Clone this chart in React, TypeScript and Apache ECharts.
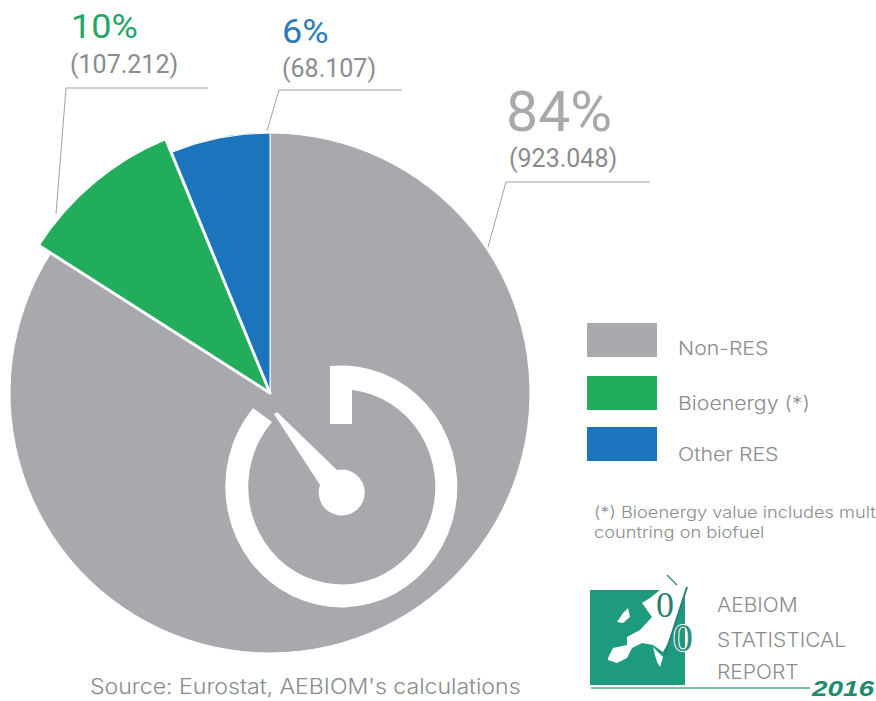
import React, { useEffect, useRef } from "react";
import * as echarts from "echarts";

const categories = ["Non-RES", "Bioenergy (*)", "Other RES"];
const values = [923.048, 107.212, 68.107];
const valueLabels = ["(923.048)", "(107.212)", "(68.107)"];
const shareLabels = ["84%", "10%", "6%"];
const colors = ["#A7A9AC", "#22AD5C", "#1C75BC"];
const footnote = ["(*) Bioenergy value includes mult", "countring on biofuel"];
const reportLines = ["AEBIOM", "STATISTICAL", "REPORT"];
const reportYear = "2016";
const sourceText = "Source: Eurostat, AEBIOM's calculations";

// White gauge mark sitting inside the large slice.
const gaugeRing =
  "M330 366 L330 424 L352 424 L352 390 A93.5 97.5 0 1 1 272 422 L253 408 A116 121 0 1 0 330 366 Z";
const gaugeNeedle = "M274 414 L277 412 L337 470 A23 23 0 1 1 320 485 Z";
// Simplified map of Europe for the report badge.
const europeMap =
  "M608 658 L613 648 L627 645 L627 637 L640 630 L652 617 L642 603 L650 598 L660 590 L685 590 L685 595 L668 643 L663 652 L653 645 L642 643 L632 648 L627 658 L617 663 L608 660 Z " +
  "M617 622 L623 613 L628 608 L630 617 L623 623 Z " +
  "M653 647 L663 657 L660 667 L657 662 L655 655 Z";

echarts.graphic.registerShape("gaugeRing", echarts.graphic.extendPath(gaugeRing, {}));
echarts.graphic.registerShape("gaugeNeedle", echarts.graphic.extendPath(gaugeNeedle, {}));
echarts.graphic.registerShape("europeMap", echarts.graphic.extendPath(europeMap, {}));

const GREY_TEXT = "#8A8C8E";
const FONT = "Inter";
const HEAD_FONT = "Roboto";
const LOGO_GREEN = "#1E9A7E";

function sliceData(visibleIndex: number[]) {
  return categories.map((name, i) => ({
    name,
    value: values[i],
    itemStyle: visibleIndex.includes(i)
      ? { color: colors[i], borderColor: "#FFFFFF", borderWidth: i === 1 ? 3 : 1 }
      : { color: "rgba(0,0,0,0)", borderWidth: 0 },
  }));
}

// Text element; the wide lettering of this design is obtained with a horizontal scale.
function text(
  x: number,
  y: number,
  t: string,
  fontSize: number,
  fill: string,
  extra: object = {},
  scaleX = 1,
) {
  return {
    type: "text",
    x,
    y,
    z: 10,
    scaleX,
    style: { text: t, fontSize, fill, fontFamily: FONT, fontWeight: 300, textVerticalAlign: "middle", ...extra },
  };
}

function leader(points: number[][]) {
  return {
    type: "polyline",
    z: 1,
    shape: { points },
    style: { stroke: "#A0A2A4", lineWidth: 1, fill: "none" },
  };
}

export default function App() {
  const ref = useRef<HTMLDivElement>(null);

  useEffect(() => {
    document.body.style.margin = "0";
    const chart = echarts.init(ref.current!, null, { renderer: "svg" });
    const swatchY = [323, 376, 427];
    const legendTextY = [348, 403, 454];
    const headStyle = { fontFamily: HEAD_FONT, fontWeight: 400 };
    chart.setOption({
      animation: false,
      backgroundColor: "#FFFFFF",
      series: [
        {
          type: "pie",
          center: [270, 393],
          radius: [0, 260],
          startAngle: 90,
          clockwise: true,
          silent: true,
          label: { show: false },
          labelLine: { show: false },
          data: sliceData([0, 2]),
        },
        {
          type: "pie",
          center: [270, 393],
          radius: [0, 275],
          startAngle: 90,
          clockwise: true,
          silent: true,
          label: { show: false },
          labelLine: { show: false },
          data: sliceData([1]),
        },
      ],
      graphic: [
        { type: "gaugeRing", z: 10, style: { fill: "#FFFFFF" } },
        { type: "gaugeNeedle", z: 10, style: { fill: "#FFFFFF" } },
        leader([[488, 247], [506, 182], [650, 182]]),
        leader([[56, 214], [66, 88], [208, 88]]),
        leader([[267, 131], [279, 90], [402, 90]]),
        text(506, 112, shareLabels[0], 55, colors[0], headStyle, 1.04),
        text(509, 158, valueLabels[0], 25, GREY_TEXT, headStyle),
        text(71, 27, shareLabels[1], 34, "#22A565", headStyle, 1.06),
        text(70, 64, valueLabels[1], 25, GREY_TEXT, headStyle),
        text(282, 32, shareLabels[2], 34, "#2B7BB9", headStyle, 1.06),
        text(282, 68, valueLabels[2], 25, GREY_TEXT, headStyle),
        ...categories.flatMap((name, i) => [
          {
            type: "rect",
            shape: { x: 587, y: swatchY[i], width: 70, height: 34 },
            style: { fill: colors[i] },
          },
          text(678, legendTextY[i], name, 19, GREY_TEXT, {}, 1.12),
        ]),
        text(594, 512, footnote[0], 16, GREY_TEXT, {}, 1.14),
        text(594, 532, footnote[1], 16, GREY_TEXT, {}, 1.14),
        {
          type: "rect",
          shape: { x: 590, y: 590, width: 95, height: 95 },
          style: { fill: LOGO_GREEN },
        },
        { type: "europeMap", z: 5, style: { fill: "#FFFFFF" } },
        text(665, 605, "0", 36, "#2A7F70", { fontFamily: "Liberation Serif", fontWeight: 400, textAlign: "center" }),
        text(683, 637, "0", 40, "#2A8F80", {
          fontFamily: "Liberation Serif",
          fontWeight: 400,
          textAlign: "center",
          stroke: "#FFFFFF",
          lineWidth: 2,
        }),
        {
          type: "line",
          z: 6,
          shape: { x1: 687, y1: 587, x2: 665, y2: 655 },
          style: { stroke: "#2A7F70", lineWidth: 2 },
        },
        {
          type: "line",
          z: 6,
          shape: { x1: 667, y1: 575, x2: 677, y2: 585 },
          style: { stroke: "#4A8F84", lineWidth: 1.5 },
        },
        text(717, 605, reportLines[0], 20, GREY_TEXT, {}, 1.05),
        text(717, 640, reportLines[1], 20, GREY_TEXT, {}, 1.05),
        text(717, 672, reportLines[2], 20, GREY_TEXT, {}, 1.05),
        {
          type: "line",
          shape: { x1: 591, y1: 688, x2: 810, y2: 688 },
          style: { stroke: "#7FBFAE", lineWidth: 2 },
        },
        text(812, 688, reportYear, 22, "#1F8A6E", {
          fontFamily: "Liberation Sans",
          fontStyle: "italic",
          fontWeight: 700,
        }, 1.27),
        text(90, 686, sourceText, 21, GREY_TEXT, {}, 1.1),
      ],
    });
    return () => chart.dispose();
  }, []);

  return <div ref={ref} style={{ width: 876, height: 701 }} />;
}
